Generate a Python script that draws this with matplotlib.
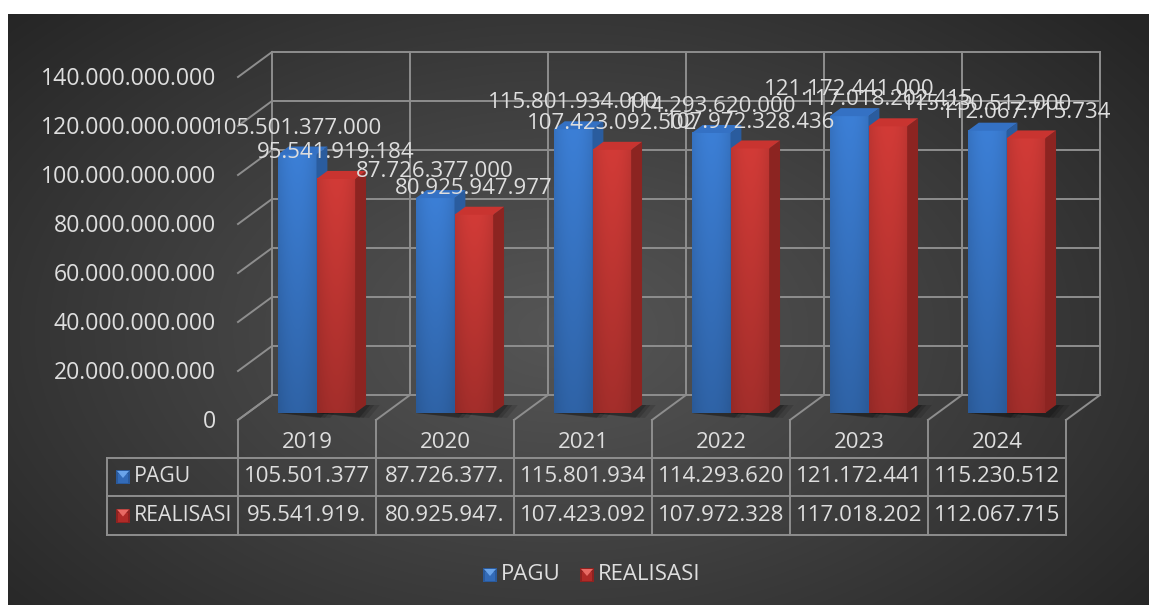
import numpy as np
import matplotlib.pyplot as plt
from matplotlib.patches import Polygon, Rectangle

# Data
years = ['2019', '2020', '2021', '2022', '2023', '2024']
pagu = [105501377000, 87726377000, 115801934000, 114293620000, 121172441000, 115230512000]
realisasi = [95541919184, 80925947977, 107423092502, 107972328436, 117018202415, 112067715734]
series_names = ['PAGU', 'REALISASI']
y_ticks = [0, 20e9, 40e9, 60e9, 80e9, 100e9, 120e9, 140e9]

plt.rcParams['font.family'] = ['Open Sans', 'DejaVu Sans']
FS = 16
TXT = '#dedede'
GRID = '#8e8e8e'

W, H = 1149, 605
fig = plt.figure(figsize=(W / 100, H / 100), dpi=100)
fig.patch.set_facecolor('white')

# pixel layer: background, table, legend
bg = fig.add_axes([0, 0, 1, 1])
bg.set_xlim(0, W)
bg.set_ylim(H, 0)
bg.axis('off')

gx, gy = np.meshgrid(np.arange(8, W), np.arange(14, H))
r = np.sqrt(((gx - 560) / 760.0) ** 2 + ((gy - 330) / 470.0) ** 2)
r = np.clip(r, 0, 1) ** 1.1
inner = np.array([0x55, 0x55, 0x55]) / 255
outer = np.array([0x25, 0x25, 0x25]) / 255
img = inner[None, None, :] + (outer - inner)[None, None, :] * r[:, :, None]
bg.imshow(img, extent=(8, W, H, 14), aspect='auto', zorder=0)

# chart layer in category / value units
X0_PX, PX_CAT = 238, 138.0
Y0_PX, PX_VAL = 420, 2.45e-9
ax = fig.add_axes([0, 0, 1, 1])
ax.axis('off')
ax.patch.set_alpha(0)

DX = 34 / PX_CAT
DY = 25 / PX_VAL
n = len(years)
top_val = y_ticks[-1]

# walls and floor
for t in y_ticks:
    ax.plot([-0.5 + DX, n - 0.5 + DX], [t + DY, t + DY], color=GRID, lw=1.4, zorder=1)
    ax.plot([-0.5, -0.5 + DX], [t, t + DY], color=GRID, lw=1.4, zorder=1)
for k in range(n + 1):
    ax.plot([-0.5 + k + DX] * 2, [DY, top_val + DY], color=GRID, lw=1.4, zorder=1)
    ax.plot([-0.5 + k, -0.5 + k + DX], [0, DY], color=GRID, lw=1.4, zorder=1)

for t in y_ticks:
    lab = '0' if t == 0 else f'{int(t):,}'.replace(',', '.')
    ax.text(-0.5 - 22 / PX_CAT, t - 2 / PX_VAL, lab, ha='right', va='center',
            color=TXT, fontsize=16.6)

# bars
f0, f1 = 0.28, 0.60
bw = 0.28
styles = [
    {'front': np.array([0x3c, 0x7f, 0xd6]) / 255, 'side': '#2a5c9e', 'top': '#3471c4'},
    {'front': np.array([0xd2, 0x3b, 0x37]) / 255, 'side': '#8c2421', 'top': '#c93430'},
]
hx = np.linspace(0, 1, 40)
hprof = 0.9 + 0.1 * (1 - np.abs(2 * hx - 1) ** 2)
for i in range(n):
    for j, vals in enumerate([pagu, realisasi]):
        v = vals[i]
        st = styles[j]
        xl = i - bw + j * bw
        xr = xl + bw
        # soft shadow on floor
        for s, a in [(0.10, 0.12), (0.06, 0.15), (0.03, 0.2)]:
            ax.add_patch(Polygon([(xl + f0 * DX, f0 * DY), (xr + f0 * DX + s, f0 * DY - 0.2 * DY),
                                  (xr + f1 * DX + s, f1 * DY), (xl + f1 * DX, f1 * DY)],
                                 closed=True, fc='black', ec='none', alpha=a, zorder=2 + i))
        vy = np.linspace(0, 1, 60)[:, None]
        vprof = 0.78 + 0.22 * vy
        shade = vprof * hprof[None, :]
        face = np.clip(st['front'][None, None, :] * shade[:, :, None], 0, 1)
        ax.imshow(face[::-1], extent=(xl + f0 * DX, xr + f0 * DX, f0 * DY, v + f0 * DY),
                  aspect='auto', zorder=3 + i, interpolation='bilinear')
        ax.add_patch(Polygon([(xr + f0 * DX, f0 * DY), (xr + f1 * DX, f1 * DY),
                              (xr + f1 * DX, v + f1 * DY), (xr + f0 * DX, v + f0 * DY)],
                             closed=True, fc=st['side'], ec='none', zorder=3 + i))
        ax.add_patch(Polygon([(xl + f0 * DX, v + f0 * DY), (xr + f0 * DX, v + f0 * DY),
                              (xr + f1 * DX, v + f1 * DY), (xl + f1 * DX, v + f1 * DY)],
                             closed=True, fc=st['top'], ec='none', zorder=3 + i))
        ax.annotate(f'{v:,}'.replace(',', '.'), xy=((xl + xr) / 2 + f0 * DX, v + f0 * DY),
                    xytext=(0, 19), textcoords='offset points', ha='center', va='center',
                    color=TXT, fontsize=FS, zorder=20)

ax.set_xlim(-0.5 - X0_PX / PX_CAT, -0.5 + (W - X0_PX) / PX_CAT)
ax.set_ylim(-(H - Y0_PX) / PX_VAL, Y0_PX / PX_VAL)


def marker(axis, x, y, base, light, dark, z=5):
    axis.add_patch(Rectangle((x, y), 14, 14, fc=dark, ec='none', zorder=z))
    axis.add_patch(Polygon([(x + 1, y + 1), (x + 13, y + 1), (x + 7, y + 8)], closed=True,
                           fc=light, ec='none', zorder=z + 1))
    axis.add_patch(Polygon([(x + 2, y + 4), (x + 12, y + 4), (x + 12, y + 13), (x + 2, y + 13)],
                           closed=True, fc=base, ec='none', alpha=0.6, zorder=z))


marker_cols = [('#3a78cc', '#6aa4ea', '#2a5a9c'), ('#c8322e', '#e86a64', '#8e2220')]

# data table
col_x = [X0_PX + k * PX_CAT for k in range(n + 1)]
rows_y = [458, 496, 535]
for x in col_x:
    bg.plot([x, x], [Y0_PX, rows_y[-1]], color=GRID, lw=1.4, zorder=3)
bg.plot([107, 107], [rows_y[0], rows_y[-1]], color=GRID, lw=1.4, zorder=3)
for y in rows_y:
    bg.plot([107, col_x[-1]], [y, y], color=GRID, lw=1.4, zorder=3)
for i, yr in enumerate(years):
    cx = (col_x[i] + col_x[i + 1]) / 2
    bg.text(cx, 443, yr, ha='center', va='center', color=TXT, fontsize=FS)
for r_i, (name, vals) in enumerate(zip(series_names, [pagu, realisasi])):
    ym = (rows_y[r_i] + rows_y[r_i + 1]) / 2
    marker(bg, 116, ym - 7, *marker_cols[r_i])
    bg.text(134, ym, name, ha='left', va='center', color=TXT, fontsize=15.3)
    for i, v in enumerate(vals):
        cx = (col_x[i] + col_x[i + 1]) / 2
        bg.text(cx, ym, f'{v:,}'.replace(',', '.')[:11], ha='center', va='center',
                color=TXT, fontsize=FS)

# legend
for (name, mx), cols in zip(zip(series_names, [483, 580]), marker_cols):
    marker(bg, mx, 568, *cols)
    bg.text(mx + 18, 575, name, ha='left', va='center', color=TXT, fontsize=FS)

fig.savefig('out.png', dpi=100, facecolor='white')
